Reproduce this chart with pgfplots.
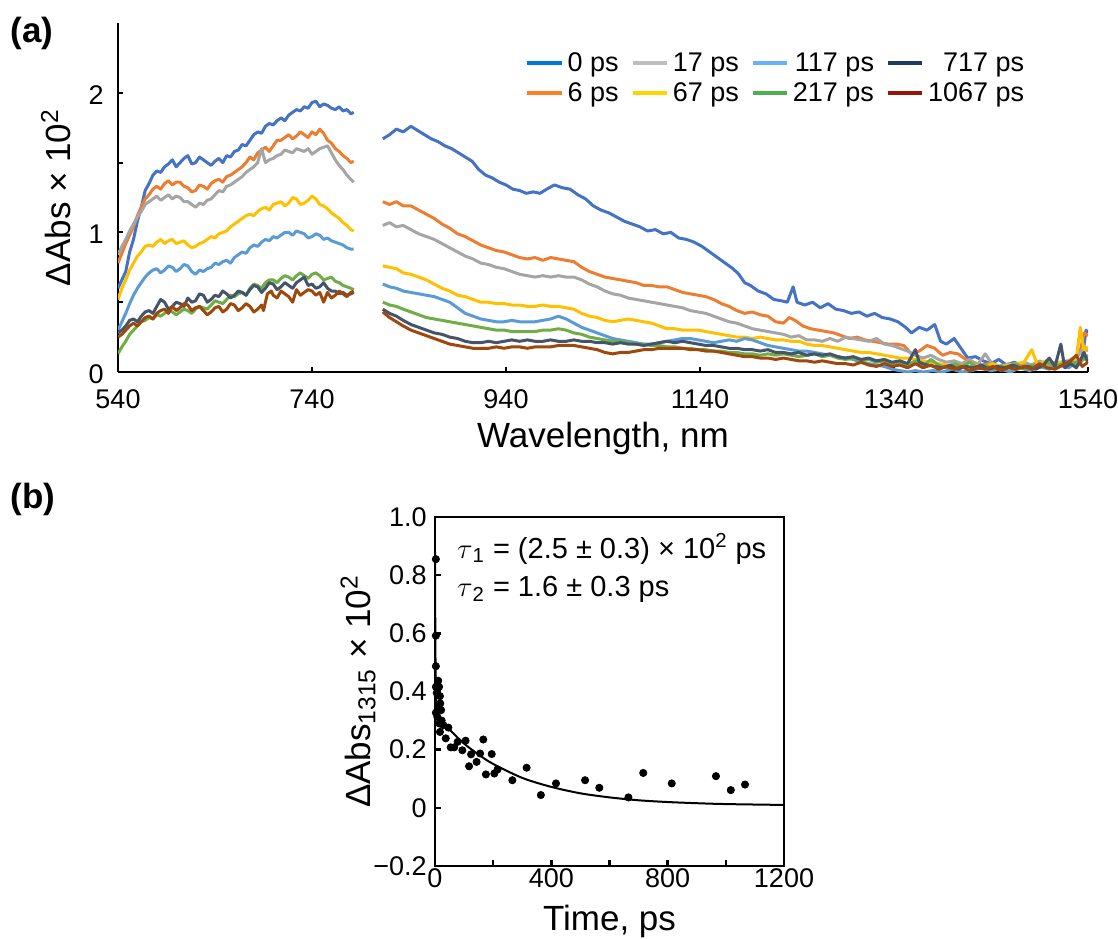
\documentclass[border=0pt]{standalone}
\usepackage{pgfplots}
\pgfplotsset{compat=1.18}
\usepackage{fontspec}
\setmainfont{Liberation Sans}
\definecolor{c0}{HTML}{4472C4}
\definecolor{c6}{HTML}{ED7D31}
\definecolor{c17}{HTML}{A5A5A5}
\definecolor{c67}{HTML}{FFC000}
\definecolor{c117}{HTML}{5B9BD5}
\definecolor{c217}{HTML}{70AD47}
\definecolor{c717}{HTML}{44546A}
\definecolor{c1067}{HTML}{9E480E}
\definecolor{l0}{HTML}{0078D7}
\definecolor{l6}{HTML}{FF7F27}
\definecolor{l17}{HTML}{BEBEBE}
\definecolor{l67}{HTML}{FFD400}
\definecolor{l117}{HTML}{6AB0F5}
\definecolor{l217}{HTML}{4CAF50}
\definecolor{l717}{HTML}{1F3A60}
\definecolor{l1067}{HTML}{961408}
\begin{document}
\begin{tikzpicture}
\path[use as bounding box] (0,0) rectangle (559pt,-469pt);
\node[font=\bfseries\fontsize{17.5}{20}\selectfont] at (16pt,-16.5pt) {(a)};
\node[font=\bfseries\fontsize{17.5}{20}\selectfont] at (16.5pt,-249.5pt) {(b)};
\begin{axis}[
  at={(59pt,-186pt)}, anchor=south west,
  scale only axis, width=485pt, height=174.5pt,
  xmin=540, xmax=1540, ymin=0, ymax=2.5,
  axis lines=left, axis line style={-, line width=1pt},
  every tick/.style={black, line width=1pt},
  tick align=inside, major tick length=2.7pt, minor tick length=2.7pt,
  xtick={540,740,940,1140,1340,1540},
  xticklabels={540,740,940,1140,1340,1540},
  ytick={0,1,2}, yticklabels={0,1,2},
  minor ytick={0.5,1.5},
  tick label style={font=\fontsize{13.5}{16}\selectfont},
  xticklabel style={anchor=base, inner sep=0pt, yshift=-18pt},
  yticklabel style={anchor=east, inner sep=0pt, xshift=-7pt, yshift=-1pt},
  label style={font=\fontsize{17.5}{21}\selectfont},
  xlabel={Wavelength, nm},
  xlabel style={at={(axis description cs:0.5,-0.2149)}, anchor=base},
  ylabel={ΔAbs × 10\textsuperscript{2}},
  ylabel style={at={(axis description cs:-0.0639,0.5)}, anchor=center},
  unbounded coords=jump,
  legend columns=4,
  legend cell align=right,
  legend style={at={(axis description cs:0.945,0.94)}, anchor=north east,
    draw=none, fill=none, font=\fontsize{13.5}{16}\selectfont,
    row sep=0pt,
    /tikz/every even column/.append style={column sep=4pt}},
  every axis plot/.append style={line width=1.5pt, line join=round},
]
% 0 ps
\addplot[c0, forget plot] coordinates {
(540,0.60)(544,0.66)(548,0.72)(552,0.86)(556,0.95)(560,1.08)(564,1.18)(568,1.30)(572,1.35)(576,1.41)(580,1.44)(584,1.43)(588,1.47)(592,1.49)(596,1.52)(600,1.47)(604,1.50)(608,1.53)(612,1.55)(616,1.49)(620,1.50)(624,1.54)(628,1.52)(632,1.50)(636,1.48)(640,1.51)(644,1.53)(648,1.50)(652,1.55)(656,1.54)(660,1.58)(664,1.59)(668,1.63)(672,1.62)(676,1.66)(680,1.70)(684,1.72)(688,1.71)(692,1.76)(696,1.78)(700,1.77)(704,1.80)(708,1.82)(712,1.80)(716,1.84)(720,1.86)(724,1.88)(728,1.87)(732,1.90)(736,1.89)(740,1.93)(744,1.94)(748,1.90)(752,1.92)(756,1.91)(760,1.89)(764,1.88)(768,1.90)(772,1.87)(776,1.88)(780,1.85)(783,1.86)
(798,nan)
(813,1.67)(820,1.70)(827,1.74)(834,1.72)(842,1.76)(849,1.73)(856,1.70)(863,1.67)(870,1.65)(877,1.62)(884,1.60)(891,1.57)(898,1.54)(905,1.51)(912,1.45)(919,1.41)(926,1.39)(933,1.36)(940,1.34)(947,1.31)(954,1.30)(961,1.28)(968,1.29)(975,1.28)(982,1.31)(990,1.34)(998,1.32)(1006,1.31)(1014,1.27)(1022,1.24)(1030,1.19)(1038,1.16)(1046,1.14)(1054,1.11)(1062,1.08)(1070,1.06)(1078,1.04)(1086,1.01)(1094,1.02)(1102,0.99)(1110,1.00)(1118,0.96)(1126,0.95)(1134,0.93)(1142,0.90)(1150,0.86)(1158,0.82)(1166,0.78)(1174,0.74)(1180,0.70)(1186,0.64)(1192,0.62)(1200,0.58)(1208,0.56)(1216,0.52)(1224,0.51)(1230,0.50)(1236,0.61)(1240,0.50)(1248,0.48)(1256,0.50)(1264,0.46)(1272,0.49)(1280,0.45)(1288,0.44)(1296,0.42)(1304,0.43)(1312,0.40)(1320,0.42)(1328,0.39)(1336,0.38)(1344,0.36)(1352,0.32)(1358,0.28)(1366,0.32)(1374,0.30)(1382,0.34)(1388,0.22)(1394,0.20)(1402,0.24)(1410,0.16)(1416,0.10)(1424,0.11)(1432,0.08)(1440,0.06)(1448,0.09)(1456,0.05)(1464,0.07)(1472,0.04)(1480,0.05)(1488,0.03)(1496,0.06)(1504,0.04)(1512,0.07)(1520,0.08)(1528,0.05)(1534,0.10)(1538,0.30)(1540,0.28)
};
% 6 ps
\addplot[c6, forget plot] coordinates {
(540,0.78)(544,0.85)(548,0.92)(552,0.98)(556,1.04)(560,1.12)(564,1.18)(568,1.24)(572,1.27)(576,1.31)(580,1.33)(584,1.31)(588,1.35)(592,1.37)(596,1.34)(600,1.36)(604,1.36)(608,1.33)(612,1.32)(616,1.29)(620,1.30)(624,1.34)(628,1.33)(632,1.31)(636,1.35)(640,1.37)(644,1.38)(648,1.36)(652,1.40)(656,1.41)(660,1.43)(664,1.45)(668,1.47)(672,1.50)(676,1.54)(680,1.52)(684,1.57)(688,1.59)(692,1.61)(696,1.58)(700,1.62)(704,1.66)(708,1.66)(712,1.68)(716,1.70)(720,1.67)(724,1.69)(728,1.72)(732,1.70)(736,1.68)(740,1.72)(744,1.70)(748,1.74)(752,1.71)(756,1.66)(760,1.64)(764,1.60)(768,1.58)(772,1.55)(776,1.53)(780,1.50)(783,1.51)
(798,nan)
(813,1.22)(820,1.20)(827,1.22)(834,1.19)(842,1.19)(850,1.16)(858,1.13)(866,1.10)(874,1.06)(882,1.03)(890,0.99)(898,0.97)(906,0.94)(914,0.91)(922,0.89)(930,0.87)(938,0.86)(946,0.84)(954,0.82)(962,0.81)(970,0.82)(978,0.80)(986,0.82)(994,0.81)(1002,0.80)(1010,0.79)(1018,0.75)(1026,0.72)(1034,0.70)(1042,0.68)(1050,0.67)(1058,0.66)(1066,0.65)(1074,0.64)(1082,0.62)(1090,0.62)(1098,0.61)(1106,0.61)(1114,0.59)(1122,0.57)(1130,0.56)(1138,0.55)(1146,0.54)(1154,0.52)(1162,0.49)(1170,0.47)(1178,0.44)(1186,0.42)(1194,0.43)(1202,0.41)(1210,0.40)(1218,0.36)(1226,0.35)(1232,0.39)(1238,0.37)(1246,0.33)(1254,0.31)(1262,0.30)(1270,0.29)(1278,0.28)(1286,0.26)(1294,0.24)(1302,0.25)(1310,0.23)(1318,0.22)(1326,0.21)(1334,0.20)(1342,0.20)(1350,0.19)(1358,0.13)(1366,0.15)(1374,0.19)(1382,0.17)(1390,0.12)(1398,0.14)(1406,0.13)(1414,0.09)(1422,0.07)(1430,0.05)(1438,0.06)(1446,0.04)(1454,0.05)(1462,0.03)(1470,0.05)(1478,0.04)(1486,0.06)(1494,0.05)(1502,0.04)(1510,0.07)(1518,0.05)(1526,0.10)(1532,0.15)(1536,0.28)(1540,0.26)
};
% 17 ps
\addplot[c17, forget plot] coordinates {
(540,0.84)(544,0.90)(548,0.95)(552,1.01)(556,1.06)(560,1.11)(564,1.15)(568,1.20)(572,1.22)(576,1.24)(580,1.26)(584,1.23)(588,1.25)(592,1.27)(596,1.24)(600,1.26)(604,1.25)(608,1.22)(612,1.22)(616,1.20)(620,1.18)(624,1.21)(628,1.20)(632,1.23)(636,1.24)(640,1.27)(644,1.30)(648,1.29)(652,1.33)(656,1.34)(660,1.36)(664,1.38)(668,1.40)(672,1.43)(676,1.45)(680,1.47)(684,1.50)(688,1.60)(692,1.50)(696,1.52)(700,1.53)(704,1.55)(708,1.56)(712,1.59)(716,1.58)(720,1.57)(724,1.60)(728,1.59)(732,1.58)(736,1.60)(740,1.56)(744,1.58)(748,1.60)(752,1.61)(756,1.62)(760,1.57)(764,1.52)(768,1.48)(772,1.45)(776,1.41)(780,1.38)(783,1.36)
(798,nan)
(813,1.05)(820,1.07)(827,1.04)(834,1.05)(842,1.02)(850,0.99)(858,0.97)(866,0.95)(874,0.92)(882,0.89)(890,0.86)(898,0.83)(906,0.81)(914,0.78)(922,0.77)(930,0.75)(938,0.74)(946,0.72)(954,0.70)(962,0.69)(970,0.68)(978,0.69)(986,0.68)(994,0.69)(1002,0.68)(1010,0.68)(1018,0.66)(1026,0.63)(1034,0.61)(1042,0.58)(1050,0.56)(1058,0.55)(1066,0.53)(1074,0.52)(1082,0.51)(1090,0.50)(1098,0.49)(1106,0.48)(1114,0.47)(1122,0.46)(1130,0.44)(1138,0.43)(1146,0.42)(1154,0.40)(1162,0.38)(1170,0.36)(1178,0.35)(1186,0.33)(1194,0.31)(1202,0.30)(1210,0.29)(1218,0.28)(1226,0.27)(1234,0.25)(1242,0.26)(1250,0.23)(1258,0.23)(1266,0.22)(1274,0.24)(1282,0.22)(1290,0.25)(1298,0.24)(1306,0.23)(1314,0.22)(1322,0.24)(1330,0.20)(1338,0.19)(1346,0.17)(1354,0.15)(1362,0.12)(1370,0.10)(1378,0.12)(1386,0.09)(1394,0.07)(1402,0.08)(1410,0.06)(1418,0.09)(1426,0.05)(1434,0.13)(1442,0.05)(1450,0.03)(1458,0.06)(1466,0.04)(1474,0.07)(1482,0.05)(1490,0.08)(1498,0.05)(1506,0.07)(1514,0.05)(1522,0.09)(1530,0.12)(1536,0.18)(1540,0.15)
};
% 67 ps
\addplot[c67, forget plot] coordinates {
(540,0.52)(544,0.60)(548,0.66)(552,0.73)(556,0.78)(560,0.83)(564,0.86)(568,0.90)(572,0.91)(576,0.90)(580,0.93)(584,0.95)(588,0.92)(592,0.94)(596,0.95)(600,0.92)(604,0.93)(608,0.94)(612,0.91)(616,0.89)(620,0.90)(624,0.92)(628,0.93)(632,0.95)(636,0.97)(640,0.96)(644,0.99)(648,1.00)(652,1.01)(656,1.04)(660,1.06)(664,1.08)(668,1.10)(672,1.12)(676,1.13)(680,1.12)(684,1.15)(688,1.17)(692,1.18)(696,1.16)(700,1.20)(704,1.21)(708,1.22)(712,1.19)(716,1.21)(720,1.25)(724,1.24)(728,1.20)(732,1.21)(736,1.23)(740,1.26)(744,1.24)(748,1.20)(752,1.19)(756,1.17)(760,1.14)(764,1.12)(768,1.10)(772,1.07)(776,1.05)(780,1.02)(783,1.01)
(798,nan)
(813,0.76)(820,0.75)(827,0.74)(834,0.71)(842,0.70)(850,0.68)(858,0.66)(866,0.63)(874,0.60)(882,0.58)(890,0.55)(898,0.54)(906,0.52)(914,0.50)(922,0.50)(930,0.49)(938,0.49)(946,0.48)(954,0.48)(962,0.47)(970,0.47)(978,0.48)(986,0.47)(994,0.47)(1002,0.46)(1010,0.45)(1018,0.42)(1026,0.40)(1034,0.39)(1042,0.37)(1050,0.36)(1058,0.37)(1066,0.38)(1074,0.37)(1082,0.36)(1090,0.35)(1098,0.33)(1106,0.31)(1114,0.31)(1122,0.30)(1130,0.30)(1138,0.30)(1146,0.29)(1154,0.28)(1162,0.27)(1170,0.26)(1178,0.25)(1186,0.25)(1194,0.24)(1202,0.25)(1210,0.24)(1218,0.23)(1226,0.23)(1234,0.22)(1242,0.22)(1250,0.20)(1258,0.19)(1266,0.19)(1274,0.18)(1282,0.17)(1290,0.16)(1298,0.15)(1306,0.14)(1314,0.14)(1322,0.13)(1330,0.12)(1338,0.11)(1346,0.10)(1354,0.10)(1362,0.09)(1370,0.08)(1378,0.07)(1386,0.06)(1394,0.05)(1402,0.04)(1410,0.05)(1418,0.04)(1426,0.05)(1434,0.04)(1442,0.06)(1450,0.04)(1458,0.05)(1466,0.06)(1474,0.07)(1482,0.16)(1488,0.05)(1496,0.08)(1504,0.06)(1512,0.07)(1520,0.05)(1528,0.10)(1532,0.32)(1536,0.15)(1540,0.18)
};
% 117 ps
\addplot[c117, forget plot] coordinates {
(540,0.30)(544,0.36)(548,0.42)(552,0.49)(556,0.55)(560,0.60)(564,0.64)(568,0.68)(572,0.71)(576,0.73)(580,0.74)(584,0.71)(588,0.73)(592,0.76)(596,0.75)(600,0.72)(604,0.74)(608,0.77)(612,0.76)(616,0.72)(620,0.70)(624,0.73)(628,0.72)(632,0.74)(636,0.75)(640,0.78)(644,0.77)(648,0.79)(652,0.80)(656,0.78)(660,0.82)(664,0.84)(668,0.86)(672,0.85)(676,0.89)(680,0.91)(684,0.90)(688,0.93)(692,0.95)(696,0.94)(700,0.97)(704,0.96)(708,0.98)(712,1.00)(716,1.00)(720,0.98)(724,1.01)(728,1.00)(732,0.99)(736,0.96)(740,0.97)(744,0.99)(748,0.98)(752,0.95)(756,0.96)(760,0.94)(764,0.93)(768,0.92)(772,0.91)(776,0.89)(780,0.88)(783,0.88)
(798,nan)
(813,0.63)(820,0.61)(827,0.60)(834,0.58)(842,0.57)(850,0.56)(858,0.55)(866,0.54)(874,0.52)(882,0.50)(890,0.46)(898,0.42)(906,0.40)(914,0.38)(922,0.37)(930,0.36)(938,0.36)(946,0.37)(954,0.36)(962,0.36)(970,0.36)(978,0.37)(986,0.38)(994,0.40)(1002,0.38)(1010,0.35)(1018,0.32)(1026,0.30)(1034,0.28)(1042,0.26)(1050,0.24)(1058,0.23)(1066,0.22)(1074,0.21)(1082,0.20)(1090,0.20)(1098,0.21)(1106,0.22)(1114,0.23)(1122,0.24)(1130,0.24)(1138,0.23)(1146,0.22)(1154,0.21)(1162,0.22)(1170,0.23)(1178,0.22)(1186,0.24)(1194,0.23)(1202,0.21)(1210,0.19)(1218,0.18)(1226,0.17)(1234,0.16)(1242,0.15)(1250,0.15)(1258,0.14)(1266,0.13)(1274,0.12)(1282,0.11)(1290,0.10)(1298,0.09)(1306,0.07)(1314,0.06)(1322,0.05)(1330,0.04)(1338,0.02)(1346,0.01)(1354,0.00)(1362,0.01)(1370,0.00)(1380,0.01)(1390,0.00)(1400,0.02)(1410,0.00)(1420,0.01)(1430,0.03)(1440,0.01)(1450,0.02)(1460,0.00)(1470,0.03)(1480,0.01)(1490,0.04)(1500,0.02)(1510,0.05)(1520,0.03)(1530,0.08)(1540,0.10)
};
% 217 ps
\addplot[c217, forget plot] coordinates {
(540,0.13)(544,0.18)(548,0.22)(552,0.27)(556,0.30)(560,0.33)(564,0.36)(568,0.37)(572,0.39)(576,0.38)(580,0.41)(584,0.40)(588,0.42)(592,0.44)(596,0.43)(600,0.41)(604,0.43)(608,0.45)(612,0.44)(616,0.42)(620,0.45)(624,0.47)(628,0.46)(632,0.45)(636,0.48)(640,0.51)(644,0.50)(648,0.49)(652,0.52)(656,0.55)(660,0.54)(664,0.56)(668,0.57)(672,0.55)(676,0.60)(680,0.63)(684,0.62)(688,0.60)(692,0.64)(696,0.66)(700,0.66)(704,0.64)(708,0.67)(712,0.69)(716,0.68)(720,0.66)(724,0.69)(728,0.71)(732,0.69)(736,0.67)(740,0.70)(744,0.71)(748,0.69)(752,0.66)(756,0.67)(760,0.68)(764,0.65)(768,0.64)(772,0.62)(776,0.61)(780,0.60)(783,0.59)
(798,nan)
(813,0.50)(820,0.48)(827,0.47)(834,0.45)(842,0.43)(850,0.41)(858,0.39)(866,0.38)(874,0.37)(882,0.36)(890,0.35)(898,0.34)(906,0.33)(914,0.32)(922,0.31)(930,0.30)(938,0.30)(946,0.29)(954,0.29)(962,0.29)(970,0.29)(978,0.30)(986,0.30)(994,0.31)(1002,0.30)(1010,0.28)(1018,0.27)(1026,0.25)(1034,0.24)(1042,0.23)(1050,0.22)(1058,0.22)(1066,0.21)(1074,0.20)(1082,0.20)(1090,0.19)(1098,0.19)(1106,0.18)(1114,0.18)(1122,0.17)(1130,0.17)(1138,0.16)(1146,0.16)(1154,0.15)(1162,0.15)(1170,0.14)(1178,0.14)(1186,0.13)(1194,0.13)(1202,0.12)(1210,0.13)(1218,0.12)(1226,0.13)(1234,0.12)(1242,0.11)(1250,0.12)(1258,0.13)(1266,0.11)(1274,0.12)(1282,0.10)(1290,0.09)(1298,0.10)(1306,0.08)(1314,0.09)(1322,0.07)(1330,0.08)(1338,0.06)(1346,0.07)(1354,0.05)(1362,0.08)(1370,0.04)(1378,0.09)(1386,0.05)(1394,0.03)(1402,0.06)(1410,0.04)(1418,0.07)(1426,0.03)(1434,0.05)(1442,0.02)(1450,0.04)(1458,0.03)(1466,0.06)(1474,0.02)(1482,0.05)(1490,0.03)(1498,0.07)(1506,0.04)(1514,0.06)(1522,0.08)(1530,0.05)(1536,0.10)(1540,0.12)
};
% 717 ps
\addplot[c717, forget plot] coordinates {
(540,0.28)(544,0.30)(548,0.33)(552,0.37)(556,0.38)(560,0.36)(564,0.40)(568,0.43)(572,0.44)(576,0.42)(580,0.47)(584,0.52)(588,0.50)(592,0.45)(596,0.47)(600,0.50)(604,0.49)(608,0.47)(612,0.53)(616,0.50)(620,0.51)(624,0.56)(628,0.55)(632,0.50)(636,0.52)(640,0.55)(644,0.54)(648,0.58)(652,0.56)(656,0.53)(660,0.55)(664,0.58)(668,0.57)(672,0.55)(676,0.59)(680,0.62)(684,0.61)(688,0.57)(692,0.60)(696,0.64)(700,0.63)(704,0.59)(708,0.61)(712,0.64)(716,0.62)(720,0.60)(724,0.64)(728,0.66)(732,0.68)(736,0.62)(740,0.63)(744,0.60)(748,0.61)(752,0.64)(756,0.60)(760,0.58)(764,0.58)(768,0.56)(772,0.57)(776,0.55)(780,0.56)(783,0.57)
(798,nan)
(813,0.45)(820,0.42)(827,0.40)(834,0.37)(842,0.34)(850,0.32)(858,0.30)(866,0.28)(874,0.27)(882,0.25)(890,0.24)(898,0.22)(906,0.21)(914,0.21)(922,0.22)(930,0.21)(938,0.22)(946,0.23)(954,0.22)(962,0.23)(970,0.22)(978,0.22)(986,0.23)(994,0.22)(1002,0.22)(1010,0.23)(1018,0.22)(1026,0.22)(1034,0.21)(1042,0.21)(1050,0.20)(1058,0.21)(1066,0.20)(1074,0.20)(1082,0.19)(1090,0.20)(1098,0.21)(1106,0.22)(1114,0.21)(1122,0.22)(1130,0.21)(1138,0.20)(1146,0.19)(1154,0.19)(1162,0.18)(1170,0.17)(1178,0.17)(1186,0.16)(1194,0.16)(1202,0.15)(1210,0.16)(1218,0.14)(1226,0.14)(1234,0.13)(1242,0.14)(1250,0.12)(1258,0.13)(1266,0.12)(1274,0.13)(1282,0.11)(1290,0.10)(1298,0.11)(1306,0.09)(1314,0.10)(1322,0.08)(1330,0.09)(1338,0.07)(1346,0.08)(1354,0.06)(1362,0.16)(1366,0.07)(1374,0.05)(1382,0.04)(1390,0.03)(1398,0.05)(1406,0.02)(1414,0.04)(1422,0.03)(1430,0.05)(1438,0.02)(1446,0.04)(1454,0.03)(1462,0.05)(1470,0.03)(1478,0.04)(1486,0.02)(1494,0.05)(1500,0.10)(1506,0.04)(1512,0.20)(1516,0.03)(1522,0.06)(1528,0.03)(1536,0.14)(1540,0.06)
};
% 1067 ps
\addplot[c1067, forget plot] coordinates {
(540,0.25)(544,0.27)(548,0.30)(552,0.33)(556,0.35)(560,0.33)(564,0.36)(568,0.39)(572,0.40)(576,0.38)(580,0.42)(584,0.44)(588,0.45)(592,0.42)(596,0.47)(600,0.44)(604,0.46)(608,0.49)(612,0.48)(616,0.44)(620,0.46)(624,0.47)(628,0.44)(632,0.41)(636,0.43)(640,0.46)(644,0.47)(648,0.43)(652,0.45)(656,0.49)(660,0.48)(664,0.44)(668,0.46)(672,0.49)(676,0.47)(680,0.43)(684,0.45)(688,0.48)(690,0.44)(694,0.56)(698,0.58)(700,0.55)(704,0.53)(708,0.58)(712,0.56)(716,0.54)(720,0.50)(724,0.59)(728,0.55)(732,0.57)(736,0.59)(740,0.58)(744,0.55)(748,0.57)(752,0.50)(756,0.57)(760,0.53)(764,0.55)(768,0.58)(772,0.56)(776,0.54)(780,0.57)(783,0.58)
(798,nan)
(813,0.43)(820,0.39)(827,0.36)(834,0.33)(842,0.30)(850,0.28)(858,0.26)(866,0.24)(874,0.22)(882,0.20)(890,0.19)(898,0.18)(906,0.17)(914,0.17)(922,0.17)(930,0.18)(938,0.17)(946,0.18)(954,0.18)(962,0.17)(970,0.18)(978,0.18)(986,0.18)(994,0.19)(1002,0.19)(1010,0.19)(1018,0.18)(1026,0.17)(1034,0.16)(1042,0.14)(1050,0.13)(1058,0.14)(1066,0.14)(1074,0.15)(1082,0.16)(1090,0.16)(1098,0.17)(1106,0.17)(1114,0.17)(1122,0.17)(1130,0.16)(1138,0.16)(1146,0.15)(1154,0.15)(1162,0.14)(1170,0.13)(1178,0.12)(1186,0.11)(1194,0.11)(1202,0.10)(1210,0.10)(1218,0.09)(1226,0.10)(1234,0.09)(1242,0.08)(1250,0.08)(1258,0.07)(1266,0.08)(1274,0.07)(1282,0.06)(1290,0.06)(1298,0.05)(1306,0.07)(1314,0.05)(1322,0.04)(1330,0.06)(1338,0.04)(1346,0.05)(1354,0.03)(1362,0.06)(1370,0.03)(1378,0.05)(1386,0.02)(1394,0.04)(1402,0.02)(1410,0.04)(1418,0.01)(1426,0.03)(1434,0.02)(1442,0.04)(1450,0.01)(1458,0.03)(1466,0.02)(1474,0.04)(1482,0.02)(1490,0.06)(1498,0.03)(1506,0.02)(1514,0.05)(1522,0.08)(1528,0.12)(1534,0.04)(1540,0.07)
};
\addlegendimage{l0, line width=2pt}\addlegendentry{0 ps}
\addlegendimage{l17, line width=2pt}\addlegendentry{17 ps}
\addlegendimage{l117, line width=2pt}\addlegendentry{117 ps}
\addlegendimage{l717, line width=2pt}\addlegendentry{717 ps}
\addlegendimage{l6, line width=2pt}\addlegendentry{6 ps}
\addlegendimage{l67, line width=2pt}\addlegendentry{67 ps}
\addlegendimage{l217, line width=2pt}\addlegendentry{217 ps}
\addlegendimage{l1067, line width=2pt}\addlegendentry{1067 ps}
\end{axis}

\begin{axis}[
  at={(217.5pt,-433pt)}, anchor=south west,
  scale only axis, width=174.5pt, height=174.5pt,
  xmin=0, xmax=1200, ymin=-0.2, ymax=1.0,
  axis line style={line width=1.4pt},
  every tick/.style={black, line width=1.2pt},
  tick align=inside, tick pos=left,
  major tick length=3pt, minor tick length=3pt,
  xtick={0,400,800,1200}, xticklabels={0,400,800,1200},
  minor xtick={200,600,1000},
  ytick={-0.2,0,0.2,0.4,0.6,0.8,1.0},
  yticklabels={−0.2,0,0.2,0.4,0.6,0.8,1.0},
  tick label style={font=\fontsize{13.5}{16}\selectfont},
  xticklabel style={anchor=base, inner sep=0pt, yshift=-10.5pt},
  yticklabel style={anchor=east, inner sep=0pt, xshift=-4pt},
  label style={font=\fontsize{17.5}{21}\selectfont},
  xlabel={Time, ps},
  xlabel style={at={(axis description cs:0.5,-0.1834)}, anchor=base},
  ylabel={ΔAbs\textsubscript{1315} × 10\textsuperscript{2}},
  ylabel style={at={(axis description cs:-0.2206,0.5)}, anchor=center},
  clip=false,
]
\addplot[black, line width=1pt, smooth] coordinates {
(0,0.88)(1,0.62)(2,0.48)(3,0.41)(5,0.345)(8,0.32)(15,0.308)(30,0.29)(50,0.269)(100,0.221)(150,0.183)(200,0.151)(300,0.103)(400,0.072)(500,0.050)(600,0.036)(700,0.026)(800,0.020)(900,0.016)(1000,0.013)(1200,0.010)
};
\addplot[only marks, mark=*, mark size=1.8pt, black] coordinates {
(3,0.855)(3,0.592)(3,0.487)(3,0.416)(6,0.395)(3,0.327)(11,0.437)(14,0.416)(17,0.384)(18,0.359)(14,0.342)(21,0.336)(8,0.313)(15,0.29)(23,0.30)(29,0.284)(17,0.261)(46,0.276)(37,0.239)(54,0.208)(66,0.208)(78,0.227)(94,0.198)(105,0.231)(117,0.143)(124,0.184)(143,0.158)(155,0.187)(166,0.235)(175,0.115)(195,0.185)(204,0.118)(215,0.132)(266,0.095)(315,0.138)(364,0.044)(416,0.084)(516,0.095)(565,0.069)(665,0.036)(716,0.120)(814,0.084)(966,0.109)(1017,0.061)(1066,0.080)
};
\node[anchor=base west, font=\fontsize{14.5}{17}\selectfont] at (axis cs:52,0.859) {$\tau$\textsubscript{1} = (2.5 ± 0.3) × 10\textsuperscript{2} ps};
\node[anchor=base west, font=\fontsize{14.5}{17}\selectfont] at (axis cs:52,0.725) {$\tau$\textsubscript{2} = 1.6 ± 0.3 ps};
\end{axis}
\end{tikzpicture}
\end{document}
